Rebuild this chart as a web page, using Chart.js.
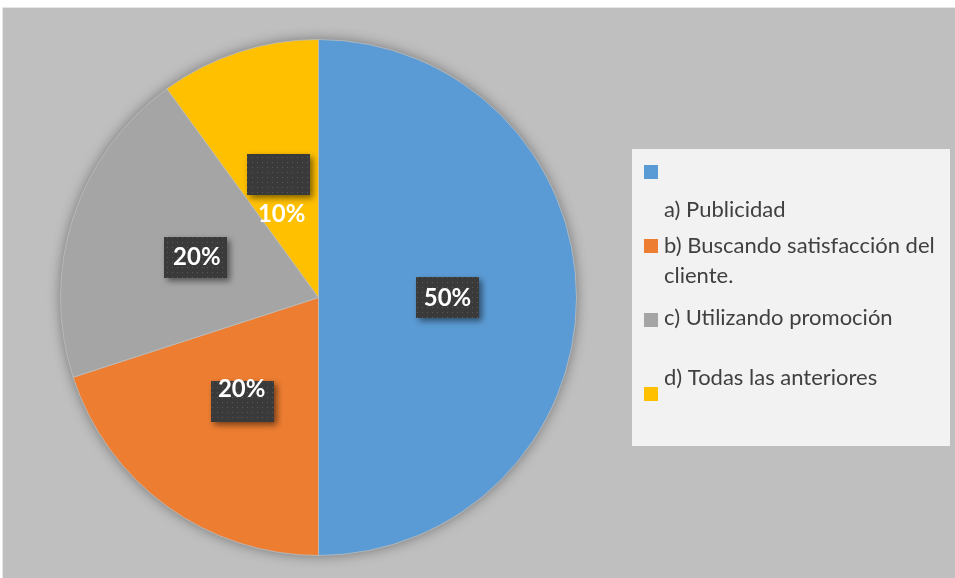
<!DOCTYPE html>
<html>
<head>
<meta charset="utf-8">
<script src="https://cdn.jsdelivr.net/npm/chart.js@4.4.1/dist/chart.umd.min.js"></script>
<style>
  html, body { margin: 0; padding: 0; background: #ffffff; }
  #wrap { width: 955px; height: 578px; position: relative; }
</style>
</head>
<body>
<div id="wrap"><canvas id="pieChart" width="955" height="578"></canvas></div>
<script>
// Données du graphique
const labels = ['a) Publicidad', ['b) Buscando satisfacción del', 'cliente.'], 'c) Utilizando promoción', 'd) Todas las anteriores'];
const values = [50, 20, 20, 10];
const pctLabels = ['50%', '20%', '20%', '10%'];
const colors = ['#5b9bd5', '#ed7d31', '#a5a5a5', '#ffc000'];

// motif en points pour les étiquettes
function dotPattern(ctx) {
  const c = document.createElement('canvas');
  c.width = 5; c.height = 5;
  const p = c.getContext('2d');
  p.fillStyle = '#3a3a3a';
  p.fillRect(0, 0, 5, 5);
  p.fillStyle = '#595959';
  p.fillRect(2, 2, 1, 1);
  return ctx.createPattern(c, 'repeat');
}

const backgroundPlugin = {
  id: 'fond',
  beforeDraw(chart) {
    const ctx = chart.ctx;
    ctx.save();
    ctx.fillStyle = '#ffffff';
    ctx.fillRect(0, 0, chart.width, chart.height);
    ctx.fillStyle = '#e6e6e6';
    ctx.fillRect(2, 7, chart.width - 2, chart.height - 7);
    ctx.fillStyle = '#bfbfbf';
    ctx.fillRect(3, 8, chart.width - 3, chart.height - 8);
    ctx.restore();
  },
  beforeDatasetsDraw(chart) {
    // ombre douce autour du camembert
    const arc = chart.getDatasetMeta(0).data[0];
    if (!arc) return;
    const ctx = chart.ctx;
    ctx.save();
    ctx.shadowColor = 'rgba(0,0,0,0.45)';
    ctx.shadowBlur = 14;
    ctx.fillStyle = '#a0a0a0';
    ctx.beginPath();
    ctx.arc(arc.x, arc.y, arc.outerRadius - 1, 0, Math.PI * 2);
    ctx.fill();
    ctx.restore();
  }
};

const labelPlugin = {
  id: 'etiquettes',
  afterDatasetsDraw(chart, args, opts) {
    const ctx = chart.ctx;
    const meta = chart.getDatasetMeta(0);
    const pattern = dotPattern(ctx);
    meta.data.forEach((arc, i) => {
      const mid = (arc.startAngle + arc.endAngle) / 2;
      const r = arc.outerRadius * 0.5;
      const cx = arc.x + Math.cos(mid) * r;
      const cy = arc.y + Math.sin(mid) * r;
      const off = opts.offsets[i];
      const bx = cx + off.box[0], by = cy + off.box[1];
      ctx.save();
      ctx.shadowColor = 'rgba(0,0,0,0.5)';
      ctx.shadowBlur = 6;
      ctx.shadowOffsetX = 3;
      ctx.shadowOffsetY = 3;
      ctx.fillStyle = pattern;
      ctx.fillRect(Math.round(bx - opts.w / 2), Math.round(by - opts.h / 2), opts.w, opts.h);
      ctx.restore();
      ctx.save();
      ctx.fillStyle = '#ffffff';
      ctx.font = 'bold 24px Lato, "Open Sans", sans-serif';
      ctx.textAlign = 'center';
      ctx.textBaseline = 'middle';
      ctx.fillText(pctLabels[i], cx + off.text[0], cy + off.text[1]);
      ctx.restore();
    });
  }
};

const legendPlugin = {
  id: 'legende',
  afterDraw(chart, args, opts) {
    const ctx = chart.ctx;
    ctx.save();
    ctx.fillStyle = '#f2f2f2';
    ctx.fillRect(opts.x, opts.y, opts.w, opts.h);
    ctx.font = '22px Lato, "Open Sans", sans-serif';
    ctx.textBaseline = 'alphabetic';
    chart.data.labels.forEach((lab, i) => {
      const it = opts.items[i];
      ctx.fillStyle = colors[i];
      ctx.fillRect(opts.x + 12, it.box, 14, 14);
      ctx.fillStyle = '#404040';
      const lines = Array.isArray(lab) ? lab : [lab];
      lines.forEach((l, j) => {
        ctx.fillText(l, opts.x + 32, it.text + j * 30);
      });
    });
    ctx.restore();
  }
};

const config = {
  type: 'pie',
  data: {
    labels: labels,
    datasets: [{
      data: values,
      backgroundColor: colors,
      borderColor: 'rgba(190,190,190,0.8)',
      borderWidth: 1
    }]
  },
  options: {
    responsive: false,
    animation: false,
    layout: { padding: { top: 39, bottom: 22, left: 60, right: 378 } },
    plugins: {
      legend: { display: false },
      tooltip: { enabled: false },
      etiquettes: {
        w: 63, h: 41,
        offsets: [
          { box: [0, 0], text: [0, 1] },
          { box: [0, 0], text: [-1, -13] },
          { box: [0, 0], text: [1, 0] },
          { box: [0, 0], text: [3, 39] }
        ]
      },
      legende: {
        x: 632, y: 149, w: 318, h: 297,
        items: [
          { box: 165, text: 217 },
          { box: 239, text: 253 },
          { box: 313, text: 325 },
          { box: 387, text: 385 }
        ]
      }
    }
  },
  plugins: [backgroundPlugin, labelPlugin, legendPlugin]
};

const ctx = document.getElementById('pieChart').getContext('2d');
const myChart = new Chart(ctx, config);
</script>
</body>
</html>
